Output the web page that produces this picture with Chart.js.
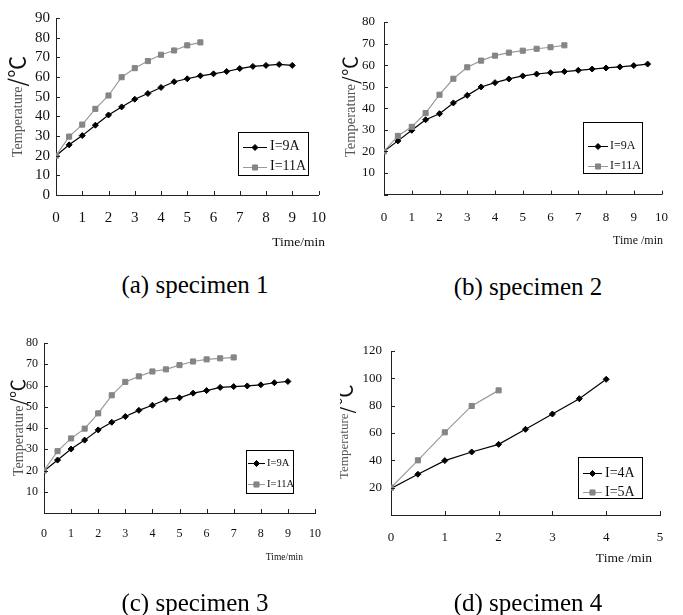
<!DOCTYPE html>
<html><head><meta charset="utf-8">
<script src="https://cdn.jsdelivr.net/npm/chart.js@4/dist/chart.umd.min.js"></script>
<style>
html,body{margin:0;padding:0;background:#fff}
body{width:683px;height:615px;position:relative;overflow:hidden}
canvas{position:absolute}
.cap{position:absolute;font-family:"Liberation Serif","Times New Roman",serif;font-size:25px;line-height:25px;white-space:nowrap;transform:translateX(-50%);color:#000}
</style></head><body>
<canvas id="cA"></canvas><canvas id="cB"></canvas><canvas id="cC"></canvas><canvas id="cD"></canvas>
<div class="cap" style="left:195px;top:272px">(a) specimen 1</div>
<div class="cap" style="left:528px;top:274px">(b) specimen 2</div>
<div class="cap" style="left:195px;top:590px">(c) specimen 3</div>
<div class="cap" style="left:528px;top:590px">(d) specimen 4</div>
<script>
// ---- data ----
const labels123 = ['I=9A', 'I=11A'];
const labels4 = ['I=4A', 'I=5A'];
const xTitles = ['Time/min', 'Time /min', 'Time/min', 'Time /min'];
const yTitle = 'Temperature';
const yUnit = '/\u2103';

const timeA1 = [0,0.5,1,1.5,2,2.5,3,3.5,4,4.5,5,5.5,6,6.5,7,7.5,8,8.5,9];
const tempA1 = [20,25.5,30.2,35.5,40.7,44.8,48.7,51.6,54.7,57.6,59.1,60.6,61.6,62.8,64.3,65.4,65.9,66.4,65.9];
const timeA2 = [0,0.5,1,1.5,2,2.5,3,3.5,4,4.5,5,5.5];
const tempA2 = [20,29.7,35.8,43.8,50.6,59.9,64.5,68.1,71.3,73.5,76.1,77.6];

const timeB1 = [0,0.5,1,1.5,2,2.5,3,3.5,4,4.5,5,5.5,6,6.5,7,7.5,8,8.5,9,9.5];
const tempB1 = [20.1,24.9,29.8,34.7,37.5,42.5,46,49.9,51.9,53.6,55,55.9,56.5,57,57.6,58.2,58.7,59.2,59.8,60.5];
const timeB2 = [0,0.5,1,1.5,2,2.5,3,3.5,4,4.5,5,5.5,6,6.5];
const tempB2 = [20,27.2,31.4,37.8,46.3,53.7,59,62.1,64.4,65.8,66.7,67.6,68.3,69.2];

const timeC1 = [0,0.5,1,1.5,2,2.5,3,3.5,4,4.5,5,5.5,6,6.5,7,7.5,8,8.5,9];
const tempC1 = [19.7,24.9,30.1,34.3,39.1,42.7,45.4,48.3,50.7,53.4,54.2,56.4,57.6,59.1,59.5,59.8,60.3,61.3,61.9];
const timeC2 = [0,0.5,1,1.5,2,2.5,3,3.5,4,4.5,5,5.5,6,6.5,7];
const tempC2 = [20,29.1,35.1,39.7,46.9,55.4,61.7,64.3,66.6,67.6,69.6,71.3,72.3,72.8,73.2];

const timeD1 = [0,0.5,1,1.5,2,2.5,3,3.5,4];
const tempD1 = [19.5,29.8,39.8,46.1,51.7,62.7,73.9,85.1,99.3];
const timeD2 = [0,0.5,1,1.5,2];
const tempD2 = [20,40,60.5,79.8,91.2];

const axisMaxX = [10, 10, 10, 5];
const axisMaxY = [90, 80, 80, 120];
const axisStepY = [10, 10, 10, 20];

// ---- layout (page coordinates) ----
const panels = [
  {id:'cA', cx:0, cy:0, cw:340, ch:260, L:56, R:321, T:18, B:195, showZero:true, yPad:6, xPad:14, tickFont:15,
   t1:timeA1, v1:tempA1, t2:timeA2, v2:tempA2, labels:labels123, xTitle:xTitles[0],
   box:[238,132,308,175], rows:[146.5,166.5], line:[243,267], textX:270, legFont:14,
   xtR:325, xtY:242, xtFont:13.5, ytX:18, ytBottom:157, ytFont:14, unitFont:22},
  {id:'cB', cx:340, cy:0, cw:343, ch:260, L:384, R:665, T:22, B:194.6, showZero:false, yPad:9, xPad:15, tickFont:13,
   t1:timeB1, v1:tempB1, t2:timeB2, v2:tempB2, labels:labels123, xTitle:xTitles[1],
   box:[583,122,642,173], rows:[146,166], line:[588,608], textX:610, legFont:12,
   xtR:663, xtY:241, xtFont:12, ytX:351, ytBottom:157, ytFont:14.5, unitFont:20},
  {id:'cC', cx:0, cy:320, cw:340, ch:270, L:44, R:315, T:343, B:513, showZero:false, yPad:6, xPad:14, tickFont:12,
   t1:timeC1, v1:tempC1, t2:timeC2, v2:tempC2, labels:labels123, xTitle:xTitles[2],
   box:[246,450,293,493], rows:[463,484], line:[248,265], textX:267, legFont:10.5,
   xtR:303, xtY:557, xtFont:9.5, ytX:19, ytBottom:476, ytFont:14, unitFont:19},
  {id:'cD', cx:340, cy:320, cw:343, ch:270, L:391, R:660, T:351, B:515, showZero:false, yPad:9, xPad:15, tickFont:13,
   t1:timeD1, v1:tempD1, t2:timeD2, v2:tempD2, labels:labels4, xTitle:xTitles[3],
   box:[578,457,642,498], rows:[473,492], line:[583,602], textX:605, legFont:14,
   xtR:652, xtY:558, xtFont:13.5, ytX:345, ytBottom:479, ytFont:13, unitFont:21}
];

const TXT = '"Liberation Serif","Times New Roman",serif';
const NUM = '"Liberation Serif","Times New Roman",serif';
const C9 = '#000', C11 = '#858585', L11 = '#9a9a9a';
const R9 = 3, R11 = 3.6;

function makeDeco(p) {
  return {
    id: 'deco',
    afterDraw(chart) {
      const ctx = chart.ctx, xs = chart.scales.x, ys = chart.scales.y;
      const ox = p.cx, oy = p.cy;
      ctx.save();
      ctx.strokeStyle = '#222'; ctx.lineWidth = 1;
      // inside tick marks
      xs.ticks.forEach(t => {
        const x = Math.round(xs.getPixelForValue(t.value)) + 0.5;
        ctx.beginPath(); ctx.moveTo(x, ys.bottom); ctx.lineTo(x, ys.bottom - 4); ctx.stroke();
      });
      ys.ticks.forEach(t => {
        const y = Math.round(ys.getPixelForValue(t.value)) + 0.5;
        ctx.beginPath(); ctx.moveTo(xs.left, y); ctx.lineTo(xs.left + 4, y); ctx.stroke();
      });
      // x title
      ctx.fillStyle = '#111';
      ctx.font = p.xtFont + 'px ' + TXT;
      ctx.textAlign = 'right'; ctx.textBaseline = 'middle';
      ctx.fillText(p.xTitle, p.xtR - ox, p.xtY - oy);
      // y title (rotated)
      ctx.save();
      ctx.translate(p.ytX - ox, p.ytBottom - oy);
      ctx.rotate(-Math.PI / 2);
      ctx.textAlign = 'left'; ctx.textBaseline = 'middle';
      ctx.fillStyle = '#555';
      ctx.font = p.ytFont + 'px ' + TXT;
      ctx.fillText(yTitle, 0, 0);
      const w = ctx.measureText(yTitle).width;
      ctx.fillStyle = '#111';
      ctx.font = p.unitFont + 'px "Noto Sans CJK SC","DejaVu Sans",sans-serif';
      ctx.fillText(yUnit, w, -1);
      ctx.restore();
      // legend
      const [bx0, by0, bx1, by1] = p.box;
      ctx.fillStyle = '#fff';
      ctx.fillRect(bx0 - ox, by0 - oy, bx1 - bx0, by1 - by0);
      ctx.strokeStyle = '#000';
      ctx.strokeRect(bx0 - ox + 0.5, by0 - oy + 0.5, bx1 - bx0, by1 - by0);
      const styles = [{c: C9, l: C9, shape: 'rectRot', r: R9}, {c: C11, l: L11, shape: 'rect', r: R11}];
      p.rows.forEach((ry, i) => {
        const y = Math.round(ry - oy) + 0.5;
        ctx.strokeStyle = styles[i].l; ctx.lineWidth = 1;
        ctx.beginPath(); ctx.moveTo(p.line[0] - ox, y); ctx.lineTo(p.line[1] - ox, y); ctx.stroke();
        ctx.fillStyle = styles[i].c; ctx.strokeStyle = styles[i].c;
        Chart.helpers.drawPoint(ctx, {pointStyle: styles[i].shape, radius: styles[i].r, borderWidth: 1},
          (p.line[0] + p.line[1]) / 2 - ox, y);
        ctx.fillStyle = '#111';
        ctx.font = p.legFont + 'px ' + TXT;
        ctx.textAlign = 'left'; ctx.textBaseline = 'middle';
        ctx.fillText(p.labels[i], p.textX - ox, ry - oy);
      });
      ctx.restore();
    }
  };
}

panels.forEach((p, k) => {
  const cv = document.getElementById(p.id);
  cv.width = p.cw; cv.height = p.ch;
  cv.style.left = p.cx + 'px'; cv.style.top = p.cy + 'px';
  cv.style.width = p.cw + 'px'; cv.style.height = p.ch + 'px';
  new Chart(cv, {
    type: 'line',
    data: {
      datasets: [
        {label: p.labels[0], data: p.t1.map((t, i) => ({x: t, y: p.v1[i]})),
         borderColor: C9, backgroundColor: C9, borderWidth: 1.2, pointStyle: 'rectRot', pointRadius: R9,
         pointBorderWidth: 1, pointBorderColor: C9, pointBackgroundColor: C9, tension: 0, order: 2},
        {label: p.labels[1], data: p.t2.map((t, i) => ({x: t, y: p.v2[i]})),
         borderColor: L11, backgroundColor: C11, borderWidth: 1.2, pointStyle: 'rect', pointRadius: R11,
         pointBorderWidth: 1, pointBorderColor: C11, pointBackgroundColor: C11, tension: 0, order: 1}
      ]
    },
    options: {
      responsive: false, animation: false, devicePixelRatio: 1,
      layout: {padding: {left: 0, top: p.T - p.cy, right: p.cx + p.cw - p.R, bottom: 0}},
      plugins: {legend: {display: false}, tooltip: {enabled: false}},
      scales: {
        x: {type: 'linear', min: 0, max: axisMaxX[k],
            afterFit(s) { s.height = p.cy + p.ch - p.B; },
            grid: {display: false, drawTicks: false},
            border: {display: true, color: '#222', width: 1},
            ticks: {stepSize: 1, padding: p.xPad, autoSkip: false, maxRotation: 0, color: '#111',
                    font: {family: NUM, size: p.tickFont}}},
        y: {type: 'linear', min: 0, max: axisMaxY[k],
            afterFit(s) { s.width = p.L - p.cx; },
            grid: {display: false, drawTicks: false},
            border: {display: true, color: '#222', width: 1},
            ticks: {stepSize: axisStepY[k], padding: p.yPad, autoSkip: false, color: '#111',
                    font: {family: NUM, size: p.tickFont},
                    callback: v => (v === 0 && !p.showZero) ? '' : String(v)}}
      }
    },
    plugins: [makeDeco(p)]
  });
});
</script>
</body></html>
